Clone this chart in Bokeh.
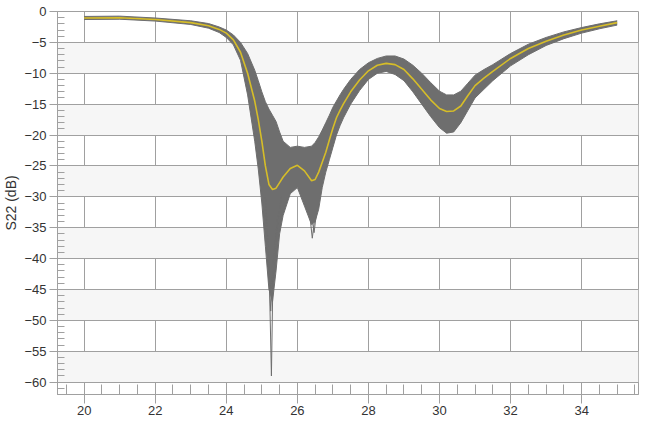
from bokeh.plotting import figure
from bokeh.models import Range1d, SingleIntervalTicker
from bokeh.embed import file_html
from bokeh.resources import INLINE

# ---- data (frequency in GHz, S22 in dB) ----
nom_f = [20, 21, 22, 23, 23.5, 23.8, 24.0, 24.2, 24.4, 24.6, 24.8, 24.9, 25.0, 25.1, 25.2,
         25.3, 25.4, 25.5, 25.6, 25.8, 26.0, 26.2, 26.4, 26.5, 26.6, 26.7, 26.8, 26.9, 27.0,
         27.1, 27.2, 27.3, 27.5, 27.75, 28.0, 28.25, 28.5, 28.75, 29.0, 29.25, 29.5, 29.75,
         30.0, 30.2, 30.4, 30.6, 30.8, 31.0, 31.25, 31.5, 32.0, 32.5, 33.0, 33.5, 34.0, 34.5, 35.0]
nom_db = [-1.05, -1.0, -1.3, -1.8, -2.3, -2.9, -3.5, -4.6, -6.6, -10.0, -14.5, -17.5, -21.0,
          -25.0, -28.0, -28.8, -28.6, -27.7, -26.8, -25.4, -24.9, -25.8, -27.4, -27.2, -26.0,
          -24.4, -22.8, -20.8, -18.9, -17.2, -16.0, -14.9, -13.0, -11.1, -9.6, -8.7, -8.4,
          -8.6, -9.4, -10.9, -12.6, -14.3, -15.7, -16.2, -16.1, -15.3, -13.6, -12.0, -10.8,
          -9.7, -7.6, -6.0, -4.8, -3.8, -3.0, -2.4, -1.8]

# envelope of the Monte-Carlo runs
env_hi = [-0.8, -0.75, -1.05, -1.5, -1.95, -2.5, -3.0, -3.8, -5.0, -6.8, -9.5, -11.2, -13.0,
          -14.6, -15.8, -16.8, -17.8, -19.5, -21.0, -22.0, -21.8, -22.0, -21.8, -21.2, -20.3,
          -19.2, -18.0, -16.8, -15.5, -14.5, -13.5, -12.6, -11.0, -9.4, -8.3, -7.6, -7.2,
          -7.2, -7.7, -8.7, -10.0, -11.5, -12.9, -13.5, -13.5, -12.9, -11.6, -10.3, -9.4,
          -8.6, -6.8, -5.3, -4.2, -3.3, -2.6, -2.0, -1.5]
env_lo = [-1.3, -1.25, -1.55, -2.1, -2.7, -3.4, -4.2, -5.4, -7.9, -13.5, -21.0, -25.5, -31.0,
          -38.0, -45.0, -47.0, -42.0, -36.0, -33.0, -29.5, -28.5, -31.5, -34.5, -34.0, -32.0,
          -28.5, -26.0, -24.0, -22.0, -20.0, -18.5, -17.2, -15.0, -12.8, -11.0, -10.0, -9.7,
          -10.2, -11.2, -13.0, -15.0, -17.0, -18.8, -19.7, -19.5, -18.0, -16.0, -14.0, -12.6,
          -11.2, -8.8, -7.0, -5.5, -4.4, -3.5, -2.8, -2.2]

# individual deep runs (spikes)
spike_a_f = [25.1, 25.2, 25.27, 25.31, 25.4, 25.55]
spike_a_db = [-30.0, -40.0, -59.0, -44.0, -36.0, -30.0]
spike_b_f = [25.1, 25.2, 25.25, 25.33, 25.45]
spike_b_db = [-32.0, -42.0, -48.5, -40.0, -33.0]
spike_c_f = [25.1, 25.18, 25.23, 25.3, 25.45]
spike_c_db = [-33.0, -41.0, -45.5, -43.0, -34.0]
spike_d_f = [26.2, 26.35, 26.42, 26.5, 26.6]
spike_d_db = [-29.0, -33.0, -36.7, -33.0, -29.0]
spike_e_f = [26.25, 26.4, 26.47, 26.55, 26.65]
spike_e_db = [-29.0, -33.0, -35.8, -32.0, -28.0]

GREY = "#6e6e6e"
GRID = "#a0a0a0"
FONT = "Liberation Sans"

p = figure(width=639, height=417, output_backend="svg", toolbar_location=None,
           x_range=Range1d(19.25, 35.6), y_range=Range1d(-62, 0),
           min_border_left=50, min_border_right=1, min_border_top=11, min_border_bottom=20)

p.varea(x=nom_f, y1=env_lo, y2=env_hi, fill_color=GREY, fill_alpha=1.0)
p.line(nom_f, env_hi, line_color=GREY, line_width=1)
p.line(nom_f, env_lo, line_color=GREY, line_width=1)
for fx, fy in [(spike_a_f, spike_a_db), (spike_b_f, spike_b_db), (spike_c_f, spike_c_db),
               (spike_d_f, spike_d_db), (spike_e_f, spike_e_db)]:
    p.line(fx, fy, line_color=GREY, line_width=1)
p.line(nom_f, nom_db, line_color="#d6bd28", line_width=1.6)

p.xaxis.ticker = SingleIntervalTicker(interval=2, num_minor_ticks=4)
p.yaxis.ticker = SingleIntervalTicker(interval=5, num_minor_ticks=5)
for ax in (p.xaxis, p.yaxis):
    ax.axis_line_color = GRID
    ax.major_tick_line_color = GRID
    ax.minor_tick_line_color = GRID
    ax.major_tick_in = 0
    ax.minor_tick_out = 0
    ax.major_label_text_font = FONT
    ax.major_label_text_font_size = "13px"
    ax.major_label_text_color = "#333333"
p.xaxis.major_tick_out = 9
p.xaxis.minor_tick_in = 10
p.yaxis.major_tick_out = 8
p.yaxis.minor_tick_in = 7
p.xaxis.major_label_standoff = 2
p.yaxis.major_label_standoff = 3
p.yaxis.axis_label = "S22 (dB)"
p.yaxis.axis_label_text_font = FONT
p.yaxis.axis_label_text_font_size = "14px"
p.yaxis.axis_label_text_font_style = "normal"
p.yaxis.axis_label_text_color = "#333333"
p.yaxis.axis_label_standoff = 2

p.xgrid.grid_line_color = GRID
p.ygrid.grid_line_color = GRID
p.ygrid.band_fill_color = "#f6f6f6"
p.ygrid.band_fill_alpha = 1.0
p.outline_line_color = GRID
p.background_fill_color = "white"
p.border_fill_color = "white"

open("out.html", "w").write(file_html(p, INLINE))
